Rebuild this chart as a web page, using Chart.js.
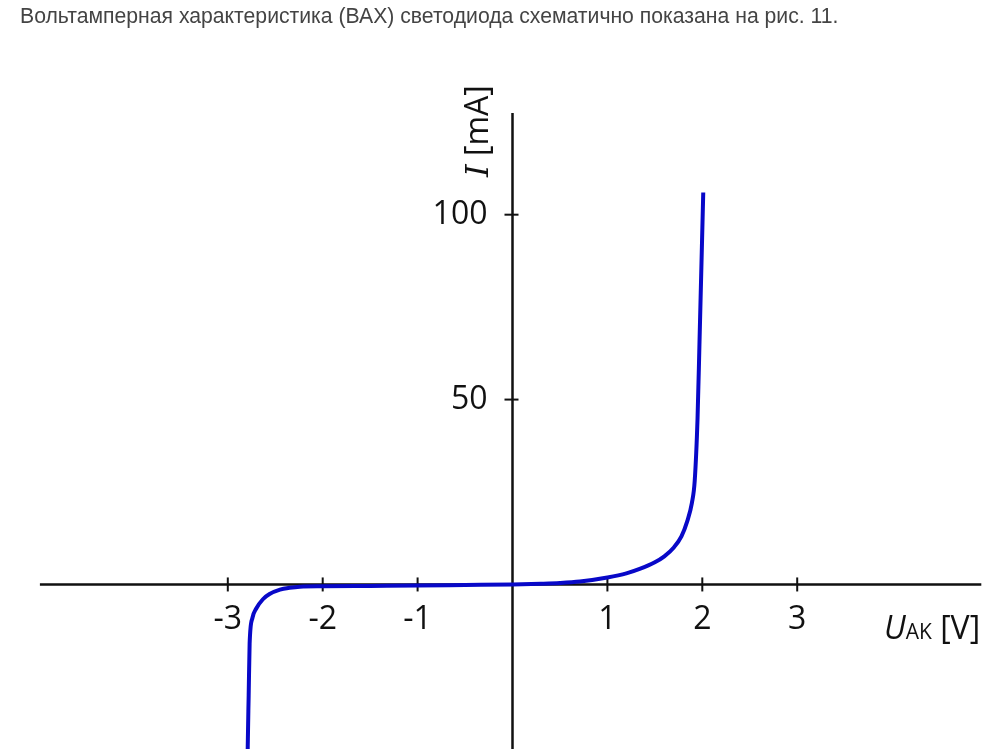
<!DOCTYPE html>
<html>
<head>
<meta charset="utf-8">
<script src="https://cdn.jsdelivr.net/npm/chart.js@4.4.1/dist/chart.umd.min.js"></script>
<style>
    body { margin: 0; background: #fff; }
    #wrap { position: relative; width: 1000px; height: 749px; overflow: hidden; }
    #caption {
        position: absolute; left: 20px; top: 4px;
        font-family: "Liberation Sans", Arial, sans-serif; font-size: 21.2px;
        color: #444; white-space: nowrap;
    }
    #chart { position: absolute; left: 0; top: 0; }
</style>
</head>
<body>
<div id="wrap">
    <canvas id="chart" width="1000" height="749"></canvas>
    <div id="caption">Вольтамперная характеристика (ВАХ) светодиода схематично показана на рис. 11.</div>
</div>
<script>
// LED I-V curve
const voltage = [-2.80, -2.79, -2.78, -2.77, -2.74, -2.70, -2.63, -2.56, -2.45, -2.35, -2.24, -2.0, -1.5, -1.0, -0.5, 0, 0.3, 0.5, 0.71, 1.0, 1.2, 1.34, 1.5, 1.6, 1.7, 1.78, 1.84, 1.89, 1.92, 1.95, 1.97, 2.01];
const current = [-70, -44, -30, -16, -9, -6.5, -4, -2.6, -1.4, -0.9, -0.6, -0.5, -0.4, -0.3, -0.15, 0, 0.2, 0.4, 0.8, 1.9, 3.0, 4.2, 6.0, 7.6, 10.0, 13.0, 17, 22, 28, 45, 65, 106];

const xTicks = [-3, -2, -1, 1, 2, 3];
const yTicks = [50, 100];

const points = voltage.map((v, i) => ({ x: v, y: current[i] }));

const axesPlugin = {
    id: 'crossAxes',
    beforeDatasetsDraw(chart) {
        const { ctx, chartArea } = chart;
        const xs = chart.scales.x;
        const ys = chart.scales.y;
        const x0 = xs.getPixelForValue(0);
        const y0 = ys.getPixelForValue(0);

        ctx.save();
        ctx.strokeStyle = '#111';
        ctx.lineWidth = 2.5;
        ctx.beginPath();
        ctx.moveTo(xs.getPixelForValue(-4.98), y0);
        ctx.lineTo(xs.getPixelForValue(4.94), y0);
        ctx.moveTo(x0, chartArea.top);
        ctx.lineTo(x0, chartArea.bottom);
        ctx.stroke();

        ctx.lineWidth = 2;
        ctx.fillStyle = '#111';
        ctx.font = '32px "Open Sans"';
        ctx.textAlign = 'center';
        ctx.textBaseline = 'alphabetic';
        xTicks.forEach(t => {
            const px = xs.getPixelForValue(t);
            ctx.beginPath();
            ctx.moveTo(px, y0 - 7);
            ctx.lineTo(px, y0 + 7);
            ctx.stroke();
            ctx.fillText(String(t), px, y0 + 45);
        });
        ctx.textAlign = 'right';
        ctx.textBaseline = 'middle';
        yTicks.forEach(t => {
            const py = ys.getPixelForValue(t);
            ctx.beginPath();
            ctx.moveTo(x0 - 8, py);
            ctx.lineTo(x0 + 6, py);
            ctx.stroke();
            ctx.fillText(String(t), x0 - 25, py);
        });

        // x axis title: U_AK [V]
        ctx.textAlign = 'left';
        ctx.textBaseline = 'alphabetic';
        let tx = 884;
        const ty = y0 + 55;
        ctx.font = 'italic 32px "Open Sans"';
        ctx.fillText('U', tx, ty);
        tx += ctx.measureText('U').width;
        ctx.font = '21px "Open Sans"';
        ctx.fillText('AK', tx, ty);
        tx += ctx.measureText('AK').width;
        ctx.font = '32px "Open Sans"';
        ctx.fillText(' [V]', tx, ty);

        // y axis title: I [mA]
        ctx.translate(x0 - 25, 177);
        ctx.rotate(-Math.PI / 2);
        ctx.font = 'italic 32px "DejaVu Serif"';
        ctx.fillText('I', 0, 0);
        const w = ctx.measureText('I').width;
        ctx.font = '32px "Open Sans"';
        ctx.fillText(' [mA]', w, 0);
        ctx.restore();
    }
};

new Chart(document.getElementById('chart'), {
    type: 'scatter',
    data: {
        datasets: [{
            data: points,
            showLine: true,
            borderColor: 'rgb(8, 8, 200)',
            borderWidth: 4,
            pointRadius: 0,
            cubicInterpolationMode: 'monotone'
        }]
    },
    options: {
        responsive: false,
        animation: false,
        devicePixelRatio: 1,
        layout: { padding: { left: 38, right: 13, top: 113, bottom: 0 } },
        scales: {
            x: { type: 'linear', min: -5, max: 5, display: false },
            y: { type: 'linear', min: -44.5, max: 127.5, display: false }
        },
        plugins: { legend: { display: false }, tooltip: { enabled: false } }
    },
    plugins: [axesPlugin]
});
</script>
</body>
</html>
